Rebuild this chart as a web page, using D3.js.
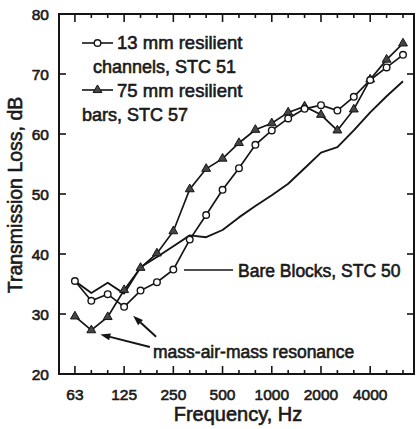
<!DOCTYPE html>
<html><head><meta charset="utf-8">
<script src="https://cdn.jsdelivr.net/npm/d3@7"></script>
<style>
html,body{margin:0;padding:0;background:#fff;}
text{font-family:"Liberation Sans",Arial,Helvetica,sans-serif;fill:#1a1a1a;stroke:#1a1a1a;stroke-width:0.6px;paint-order:stroke;}
</style></head>
<body>
<svg id="chart" width="416" height="429"></svg>
<script>
// ---- data ----
const bands = ["63","80","100","125","160","200","250","315","400","500","630","800","1000","1250","1600","2000","2500","3150","4000","5000","6300"];
const tickLabels = ["63","125","250","500","1000","2000","4000"];
const yTicks = [20,30,40,50,60,70,80];
const channels13 = [35.5,32.2,33.3,31.2,33.9,35.3,37.4,42.4,46.5,50.7,54.3,58.2,60.6,62.6,64.2,64.8,63.9,66.2,69.0,71.1,73.2];
const bars75     = [29.6,27.3,29.5,34.0,37.7,40.1,43.8,50.8,54.2,55.9,58.5,60.7,61.8,63.6,64.6,63.2,60.6,64.1,69.1,72.4,75.1];
const bareBlocks = [35.5,33.5,35.2,33.4,37.8,39.5,41.3,43.1,42.8,44.0,46.1,48.0,49.8,51.7,54.3,56.9,57.8,60.6,63.6,66.3,68.8];
const legendLabels = [["13 mm resilient","channels, STC 51"],["75 mm resilient","bars, STC 57"]];
const bareLabel = "Bare Blocks, STC 50";
const resonanceLabel = "mass-air-mass resonance";

// ---- layout ----
const svg = d3.select("#chart");
const L = 59, R = 414, T = 14, B = 374;
const x = d3.scaleLinear().domain([-0.97, 20.67]).range([L, R]);
const y = d3.scaleLinear().domain([20, 80]).range([B, T]);
const ink = "#151515";

// frame
svg.append("rect").attr("x",L).attr("y",T).attr("width",R-L).attr("height",B-T)
  .attr("fill","none").attr("stroke",ink).attr("stroke-width",2);

// x ticks top & bottom (inward)
const idx = d3.range(bands.length);
const isMajor = i => tickLabels.includes(bands[i]);
svg.append("g").selectAll("line.bt").data(idx).join("line")
  .attr("x1",i=>x(i)).attr("x2",i=>x(i))
  .attr("y1",B).attr("y2",i=>B-(isMajor(i)?8:4))
  .attr("stroke",ink).attr("stroke-width",1.6);
svg.append("g").selectAll("line.tt").data(idx).join("line")
  .attr("x1",i=>x(i)).attr("x2",i=>x(i))
  .attr("y1",T).attr("y2",i=>T+(isMajor(i)?8:4))
  .attr("stroke",ink).attr("stroke-width",1.6);

// x tick labels
svg.append("g").selectAll("text").data(tickLabels).join("text")
  .attr("x",d=>x(bands.indexOf(d))).attr("y",400)
  .attr("text-anchor","middle").attr("font-size","15.5px").text(d=>d);

// y ticks left & right (inward)
const innerY = yTicks.filter(v=>v>20 && v<80);
svg.append("g").selectAll("line").data(innerY).join("line")
  .attr("x1",L).attr("x2",L+7).attr("y1",d=>y(d)).attr("y2",d=>y(d))
  .attr("stroke",ink).attr("stroke-width",1.6);
svg.append("g").selectAll("line").data(innerY).join("line")
  .attr("x1",R-7).attr("x2",R).attr("y1",d=>y(d)).attr("y2",d=>y(d))
  .attr("stroke",ink).attr("stroke-width",1.6);
svg.append("g").selectAll("text").data(yTicks).join("text")
  .attr("x",49).attr("y",d=>y(d)).attr("dy","0.36em")
  .attr("text-anchor","end").attr("font-size","15.5px").text(d=>d);

// axis titles
svg.append("text").attr("x",238).attr("y",421).attr("text-anchor","middle")
  .attr("font-size","20px").text("Frequency, Hz");
svg.append("text").attr("transform","translate(22,195) rotate(-90)")
  .attr("text-anchor","middle").attr("font-size","19.5px").text("Transmission Loss, dB");

// lines
const line = d3.line().x((d,i)=>x(i)).y(d=>y(d));
svg.append("path").datum(bareBlocks).attr("d",line).attr("fill","none")
  .attr("stroke",ink).attr("stroke-width",1.9).attr("stroke-linejoin","round");
svg.append("path").datum(bars75).attr("d",line).attr("fill","none")
  .attr("stroke",ink).attr("stroke-width",1.7);
svg.append("path").datum(channels13).attr("d",line).attr("fill","none")
  .attr("stroke",ink).attr("stroke-width",1.7);

const tri = d3.symbol().type(d3.symbolTriangle).size(34);
svg.append("g").selectAll("path").data(bars75).join("path")
  .attr("d",tri).attr("transform",(d,i)=>`translate(${x(i)},${y(d)})`)
  .attr("fill","#454545").attr("stroke",ink).attr("stroke-width",1);
svg.append("g").selectAll("circle").data(channels13).join("circle")
  .attr("cx",(d,i)=>x(i)).attr("cy",d=>y(d)).attr("r",3.3)
  .attr("fill","#fff").attr("stroke",ink).attr("stroke-width",1.4);

// legend
const lg = svg.append("g");
const legY = [43, 90];
lg.append("line").attr("x1",82).attr("x2",113).attr("y1",legY[0]).attr("y2",legY[0]).attr("stroke",ink).attr("stroke-width",1.6);
lg.append("circle").attr("cx",97.5).attr("cy",legY[0]).attr("r",3.3).attr("fill","#fff").attr("stroke",ink).attr("stroke-width",1.4);
lg.append("line").attr("x1",82).attr("x2",113).attr("y1",legY[1]).attr("y2",legY[1]).attr("stroke",ink).attr("stroke-width",1.6);
lg.append("path").attr("d",tri).attr("transform",`translate(97.5,${legY[1]})`).attr("fill","#454545").attr("stroke",ink).attr("stroke-width",1);
lg.append("text").attr("x",117).attr("y",49).attr("font-size","18.5px").text(legendLabels[0][0]);
lg.append("text").attr("x",93).attr("y",73).attr("font-size","18px").text(legendLabels[0][1]);
lg.append("text").attr("x",117).attr("y",97).attr("font-size","18.5px").text(legendLabels[1][0]);
lg.append("text").attr("x",82).attr("y",121).attr("font-size","18px").text(legendLabels[1][1]);

// bare blocks label
svg.append("line").attr("x1",184).attr("x2",233).attr("y1",270).attr("y2",270).attr("stroke",ink).attr("stroke-width",1.6);
svg.append("text").attr("x",238).attr("y",277).attr("font-size","17.5px").text(bareLabel);

// resonance annotation with arrows (data coords: band index, dB)
const arrows = [ {from:[4.57,24.5], to:[1.55,26.6]}, {from:[4.95,26.2], to:[3.55,29.7]} ];
arrows.forEach(a=>{
  const x1=x(a.from[0]), y1=y(a.from[1]), x2=x(a.to[0]), y2=y(a.to[1]);
  const ang=Math.atan2(y2-y1,x2-x1), hl=10, hw=3.6;
  const bx=x2-hl*Math.cos(ang), by=y2-hl*Math.sin(ang);
  svg.append("line").attr("x1",x1).attr("y1",y1).attr("x2",bx).attr("y2",by).attr("stroke",ink).attr("stroke-width",2);
  svg.append("path").attr("d",`M${x2},${y2}L${bx+hw*Math.sin(ang)},${by-hw*Math.cos(ang)}L${bx-hw*Math.sin(ang)},${by+hw*Math.cos(ang)}Z`).attr("fill",ink);
});
svg.append("text").attr("x",153).attr("y",358).attr("font-size","17.5px").text(resonanceLabel);
</script>
</body></html>
